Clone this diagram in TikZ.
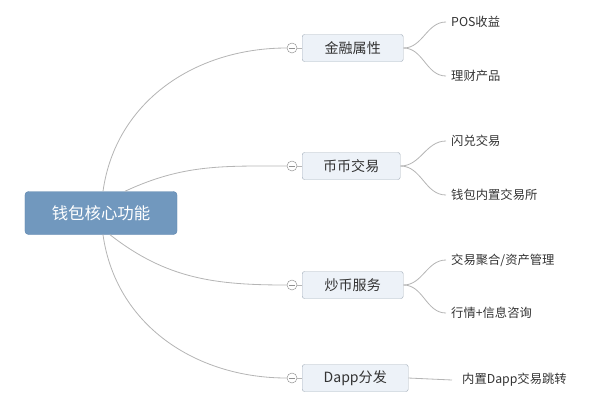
\documentclass[tikz,border=0pt]{standalone}
\usepackage{fontspec}
\setmainfont{Noto Sans CJK SC}
\definecolor{rootblue}{HTML}{7198BE}
\definecolor{rootedge}{HTML}{5E86AD}
\definecolor{branchfill}{HTML}{EDF2F8}
\definecolor{branchedge}{HTML}{A9B3BE}
\definecolor{linegray}{HTML}{B5B5B5}
\definecolor{textgray}{HTML}{333333}

\begin{document}
\begin{tikzpicture}[x=0.03cm, y=0.03cm]
\useasboundingbox (0,0) rectangle (600,-412);

\coordinate (R_1) at (101, -213);
\coordinate (K_1) at (292, -48);
\coordinate (K_2) at (292, -166);
\coordinate (K_3) at (292, -285);
\coordinate (K_4) at (292, -378);
\coordinate (B_1) at (302, -48);
\coordinate (B_2) at (302, -166);
\coordinate (B_3) at (302, -285);
\coordinate (B_4) at (302, -378);
\coordinate (L_1) at (446, -22);
\coordinate (L_2) at (446, -76);
\coordinate (L_3) at (446, -141);
\coordinate (L_4) at (446, -195);
\coordinate (L_5) at (446, -260);
\coordinate (L_6) at (446, -313);
\coordinate (L_7) at (452, -380);


\tikzset{RootStyle/.style = {
 shape = rectangle,
 rounded corners = 3pt,
 fill = rootblue,
 draw = rootedge,
 text = white,
 minimum width = 4.56cm,
 minimum height = 1.29cm,
 font = \fontsize{14}{16}\selectfont} }

\tikzset{BranchStyle/.style = {
 shape = rectangle,
 rounded corners = 2pt,
 fill = branchfill,
 draw = branchedge,
 text = textgray,
 anchor = west,
 minimum width = 3.03cm,
 minimum height = 0.81cm,
 font = \fontsize{12}{14}\selectfont} }

\tikzset{KnobStyle/.style = {
 shape = circle,
 draw = linegray!80!black,
 fill = white,
 inner sep = 0pt,
 minimum size = 0.3cm,
 path picture = {\draw[linegray!80!black] ([xshift=-0.09cm]path picture bounding box.center) -- ([xshift=0.09cm]path picture bounding box.center);}} }

\tikzset{LeafStyle/.style = {
 anchor = west,
 inner sep = 0.15cm,
 text = textgray,
 font = \fontsize{10.5}{12}\selectfont} }

\tikzset{EdgeStyle/.style = {draw = linegray, line width = 0.7pt} }

\node[RootStyle] (Root) at (R_1) {钱包核心功能};

\node[BranchStyle] (B1) at (B_1) {金融属性};
\node[BranchStyle, minimum width = 2.94cm] (B2) at (B_2) {币币交易};
\node[BranchStyle] (B3) at (B_3) {炒币服务};
\node[BranchStyle, minimum width = 3.18cm] (B4) at (B_4) {Dapp分发};

\node[KnobStyle] (K1) at (K_1) {};
\node[KnobStyle] (K2) at (K_2) {};
\node[KnobStyle] (K3) at (K_3) {};
\node[KnobStyle] (K4) at (K_4) {};

\node[LeafStyle] (L1) at (L_1) {POS收益};
\node[LeafStyle] (L2) at (L_2) {理财产品};
\node[LeafStyle] (L3) at (L_3) {闪兑交易};
\node[LeafStyle] (L4) at (L_4) {钱包内置交易所};
\node[LeafStyle] (L5) at (L_5) {交易聚合/资产管理};
\node[LeafStyle] (L6) at (L_6) {行情+信息咨询};
\node[LeafStyle, inner xsep = 0.3cm] (L7) at (L_7) {内置Dapp交易跳转};


\draw[EdgeStyle] ([xshift=0.06cm]Root.north) to[out=82, in=180] (K1.west);
\draw[EdgeStyle] ([xshift=0.72cm]Root.north) to[out=25, in=180] (K2.west);
\draw[EdgeStyle] ([xshift=0.27cm]Root.south) to[out=-38, in=180] (K3.west);
\draw[EdgeStyle] ([xshift=0.06cm]Root.south) to[out=-82, in=180] (K4.west);

\draw[EdgeStyle] (K1) -- (B1);
\draw[EdgeStyle] (K2) -- (B2);
\draw[EdgeStyle] (K3) -- (B3);
\draw[EdgeStyle] (K4) -- (B4);

\draw[EdgeStyle] (B1.east) to[out=0, in=180] (L1.west);
\draw[EdgeStyle] (B1.east) to[out=0, in=180] (L2.west);
\draw[EdgeStyle] (B2.east) to[out=0, in=180] (L3.west);
\draw[EdgeStyle] (B2.east) to[out=0, in=180] (L4.west);
\draw[EdgeStyle] (B3.east) to[out=0, in=180] (L5.west);
\draw[EdgeStyle] (B3.east) to[out=0, in=180] (L6.west);
\draw[EdgeStyle] (B4.east) -- (L7.west);

\end{tikzpicture}
\end{document}
